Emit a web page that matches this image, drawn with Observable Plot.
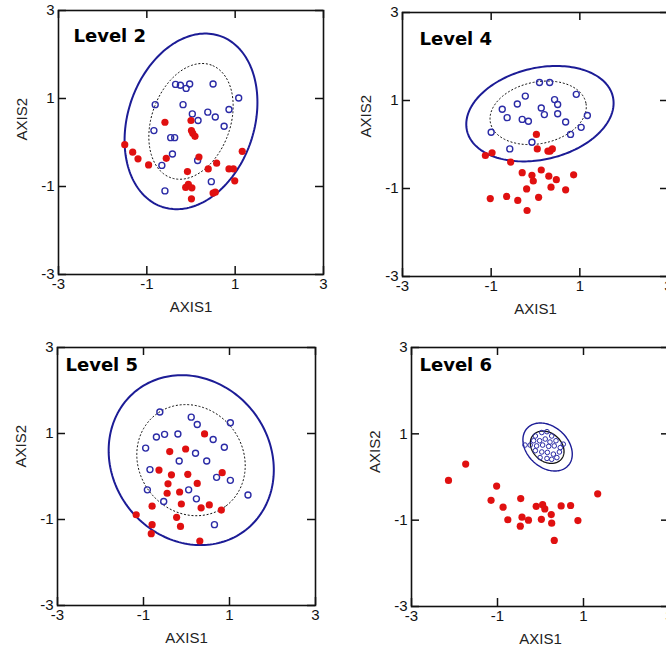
<!DOCTYPE html>
<html><head><meta charset="utf-8">
<script src="https://cdn.jsdelivr.net/npm/d3@7"></script>
<script src="https://cdn.jsdelivr.net/npm/@observablehq/plot@0.6"></script>
<style>
html,body{margin:0;padding:0;background:#fff;}
#chart{position:relative;width:666px;height:650px;overflow:hidden;background:#fff;}
#chart svg{position:absolute;}
</style></head><body><div id="chart"></div>
<script>
// ---- data ----
const axisTicks = [-3, -1, 1, 3];
const panelTitles = ["Level 2", "Level 4", "Level 5", "Level 6"];
const xLabel = "AXIS1";
const yLabel = "AXIS2";

// points are [AXIS1, AXIS2]
const level2Open = [[-0.35,1.32],[-0.24,1.30],[-0.11,1.23],[-0.03,1.33],[0.50,1.33],[1.08,1.01],[-0.81,0.86],[-0.18,0.86],[0.03,0.65],[0.38,0.69],[0.55,0.58],[0.86,0.75],[0.16,0.50],[0.75,0.37],[-0.84,0.27],[-0.46,0.11],[-0.37,0.11],[-0.42,-0.26],[0.15,-0.41],[-0.66,-0.52],[0.46,-0.89],[-0.59,-1.10]];
const level2Filled = [[-1.50,-0.05],[-1.32,-0.22],[-1.20,-0.37],[-0.96,-0.51],[-0.59,0.46],[0.00,0.50],[0.01,0.27],[0.04,0.21],[0.09,0.14],[-0.56,-0.36],[0.18,-0.33],[-0.08,-0.66],[-0.12,-1.02],[-0.06,-0.95],[0.02,-1.03],[0.01,-1.28],[0.39,-0.60],[0.58,-0.47],[0.86,-0.60],[0.96,-0.60],[0.99,-0.87],[1.16,-0.20],[0.50,-1.15],[0.55,-1.13]];
const level4Open = [[0.09,1.41],[0.32,1.41],[0.92,1.14],[-0.23,1.10],[-0.41,0.92],[0.43,1.02],[0.50,0.91],[-0.75,0.80],[0.13,0.83],[-0.64,0.61],[-0.30,0.57],[-0.16,0.53],[0.20,0.68],[0.50,0.70],[0.68,0.51],[1.17,0.66],[1.03,0.39],[-1.00,0.28],[0.79,0.23],[-0.08,0.05],[-0.58,-0.10]];
const level4Filled = [[0.02,0.23],[0.04,-0.10],[0.28,-0.15],[0.33,-0.15],[0.38,-0.10],[-1.13,-0.25],[-0.98,-0.19],[-0.56,-0.40],[-0.30,-0.64],[0.13,-0.58],[-0.08,-0.70],[-0.05,-0.83],[0.30,-0.72],[0.47,-0.80],[0.86,-0.69],[-0.20,-1.01],[0.35,-0.97],[0.68,-1.03],[-1.02,-1.23],[-0.65,-1.18],[-0.40,-1.27],[0.07,-1.20],[-0.19,-1.50]];
const level5Open = [[-0.62,1.50],[0.11,1.38],[0.25,1.21],[1.02,1.25],[-0.70,0.92],[-0.51,0.98],[-0.20,0.99],[0.62,0.86],[0.88,0.68],[-0.95,0.66],[0.21,0.54],[-0.17,0.36],[0.47,0.36],[-0.85,0.16],[0.70,-0.02],[1.02,-0.09],[-0.91,-0.31],[0.05,-0.31],[0.23,-0.52],[1.43,-0.43],[-0.53,-0.58],[0.65,-1.12]];
const level5Filled = [[0.42,0.99],[-0.39,0.58],[-0.02,0.64],[-0.64,0.15],[-0.35,0.04],[0.03,0.05],[0.25,-0.16],[0.83,0.09],[-0.43,-0.17],[-0.16,-0.36],[-0.45,-0.39],[-0.12,-0.64],[-0.80,-0.69],[0.34,-0.73],[0.53,-0.66],[0.81,-0.78],[-0.23,-0.95],[-0.14,-1.16],[-1.17,-0.89],[-0.80,-1.12],[-0.82,-1.33],[0.31,-1.50]];
const level6Open = [[-0.12,0.95],[0.03,1.03],[0.15,1.05],[0.26,0.95],[-0.16,0.84],[-0.02,0.84],[0.11,0.88],[0.22,0.81],[0.36,0.84],[-0.24,0.74],[-0.09,0.72],[0.05,0.74],[0.19,0.71],[0.32,0.72],[0.46,0.68],[0.53,0.76],[-0.12,0.61],[0.03,0.58],[0.16,0.57],[0.30,0.53],[0.44,0.58],[-0.01,0.45],[0.15,0.43],[0.26,0.41],[0.38,0.45],[-0.36,0.74]];
const level6Filled = [[-1.74,0.30],[-2.14,-0.08],[-1.02,-0.21],[-1.15,-0.54],[-0.46,-0.50],[-0.87,-0.70],[-0.10,-0.68],[0.05,-0.64],[0.10,-0.74],[0.48,-0.67],[0.70,-0.66],[1.33,-0.39],[-0.76,-0.99],[-0.43,-0.93],[-0.28,-1.00],[0.02,-0.98],[0.25,-0.87],[0.26,-1.07],[0.87,-1.01],[-0.47,-1.14],[0.32,-1.47]];

// ellipses: [centre AXIS1, centre AXIS2, semi-major, semi-minor, angle in degrees]
const level2Outer = [0.00, 0.48, 2.05, 1.43, 71.5];
const level2Inner = [0.00, 0.48, 1.36, 0.89, 70.4];
const level4Outer = [0.10, 0.70, 1.69, 1.04, 13.4];
const level4Inner = [0.06, 0.72, 1.10, 0.70, 12];
const level5Outer = [0.11, 0.38, 2.06, 1.83, -52];
const level5Inner = [0.105, 0.38, 1.34, 1.21, -52];
const level6Outer = [0.165, 0.695, 0.644, 0.473, -42];
const level6Inner = [0.155, 0.69, 0.43, 0.33, -40];

// ---- drawing ----
const RED = "#e01010", BLUE = "#2b2ba6", ELL = "#1c1c96";
const FONT = "Liberation Sans, Arial, Helvetica, sans-serif";

function ellipsePoints([cx, cy, a, b, deg]) {
  const t = deg * Math.PI / 180;
  return d3.range(0, 360, 2).map(u => {
    const r = u * Math.PI / 180;
    return {x: cx + a*Math.cos(r)*Math.cos(t) - b*Math.sin(r)*Math.sin(t),
            y: cy + a*Math.cos(r)*Math.sin(t) + b*Math.sin(r)*Math.cos(t)};
  });
}

const panels = [
  {title: panelTitles[0], open: level2Open, filled: level2Filled, outer: level2Outer, inner: level2Inner,
   left: 0, top: 0, ml: 58, mt: 10, fw: 265, fh: 264, mr: 10, mb: 50, tdx: 15, tdy: 19, ydy: -2},
  {title: panelTitles[1], open: level4Open, filled: level4Filled, outer: level4Outer, inner: level4Inner,
   left: 333, top: 0, ml: 69, mt: 12, fw: 266, fh: 264, mr: 5, mb: 50, tdx: 17, tdy: 20, ydy: -7},
  {title: panelTitles[2], open: level5Open, filled: level5Filled, outer: level5Outer, inner: level5Inner,
   left: 0, top: 325, ml: 57, mt: 22, fw: 258, fh: 258, mr: 18, mb: 45, tdx: 8, tdy: 11, ydy: -9},
  {title: panelTitles[3], open: level6Open, filled: level6Filled, outer: level6Outer, inner: level6Inner,
   left: 333, top: 325, ml: 78, mt: 22, fw: 258, fh: 259, mr: 5, mb: 44, tdx: 8, tdy: 11, ydy: -4, small: true}
];

const chart = document.getElementById("chart");
for (const p of panels) {
  const svg = Plot.plot({
    width: p.ml + p.fw + p.mr,
    height: p.mt + p.fh + p.mb,
    marginLeft: p.ml, marginTop: p.mt, marginRight: p.mr, marginBottom: p.mb,
    style: {fontFamily: FONT, background: "transparent"},
    x: {domain: [-3, 3], axis: null},
    y: {domain: [-3, 3], axis: null},
    marks: [
      Plot.line(ellipsePoints(p.inner), {x: "x", y: "y", curve: "linear-closed",
        stroke: "#111", strokeWidth: p.small ? 1.3 : 1, strokeDasharray: p.small ? null : "1.2,2.6"}),
      Plot.line(ellipsePoints(p.outer), {x: "x", y: "y", curve: "linear-closed",
        stroke: ELL, strokeWidth: p.small ? 1.4 : 2}),
      Plot.dot(p.open, {x: d => d[0], y: d => d[1], r: p.small ? 2.3 : 3, stroke: BLUE,
        strokeWidth: p.small ? 1 : 1.4, fill: "none"}),
      Plot.dot(p.filled, {x: d => d[0], y: d => d[1], r: 3.6, fill: RED}),
      Plot.frame({stroke: "#111", strokeWidth: 1.6}),
      Plot.tickX(axisTicks, {x: d => d, insetTop: p.fh - 8, stroke: "#111", strokeWidth: 1.5}),
      Plot.tickX(axisTicks, {x: d => d, insetBottom: p.fh - 8, stroke: "#111", strokeWidth: 1.5}),
      Plot.tickY(axisTicks, {y: d => d, insetRight: p.fw - 8, stroke: "#111", strokeWidth: 1.5}),
      Plot.tickY(axisTicks, {y: d => d, insetLeft: p.fw - 8, stroke: "#111", strokeWidth: 1.5}),
      Plot.axisX(axisTicks, {anchor: "bottom", tickSize: 0, tickPadding: 4, fontSize: 15,
        tickFormat: d => String(d), label: null, fill: "#111"}),
      Plot.axisY(axisTicks, {anchor: "left", tickSize: 0, tickPadding: 4, fontSize: 15,
        tickFormat: d => String(d), label: null, fill: "#111"}),
      Plot.text([xLabel], {text: d => d, frameAnchor: "bottom", dy: 32.5, lineAnchor: "middle",
        fontSize: 15, fill: "#222"}),
      Plot.text([yLabel], {text: d => d, frameAnchor: "left", dx: -36.5, dy: p.ydy, rotate: -90,
        lineAnchor: "middle", fontSize: 15, fill: "#222"}),
      Plot.text([p.title], {text: d => d, frameAnchor: "top-left", dx: p.tdx, dy: p.tdy,
        lineAnchor: "top", textAnchor: "start", fontSize: 18, fontWeight: "bold",
        fontFamily: "DejaVu Sans, Verdana, sans-serif", fill: "#000"})
    ]
  });
  svg.style.left = p.left + "px";
  svg.style.top = p.top + "px";
  chart.appendChild(svg);
}
</script>
</body></html>
